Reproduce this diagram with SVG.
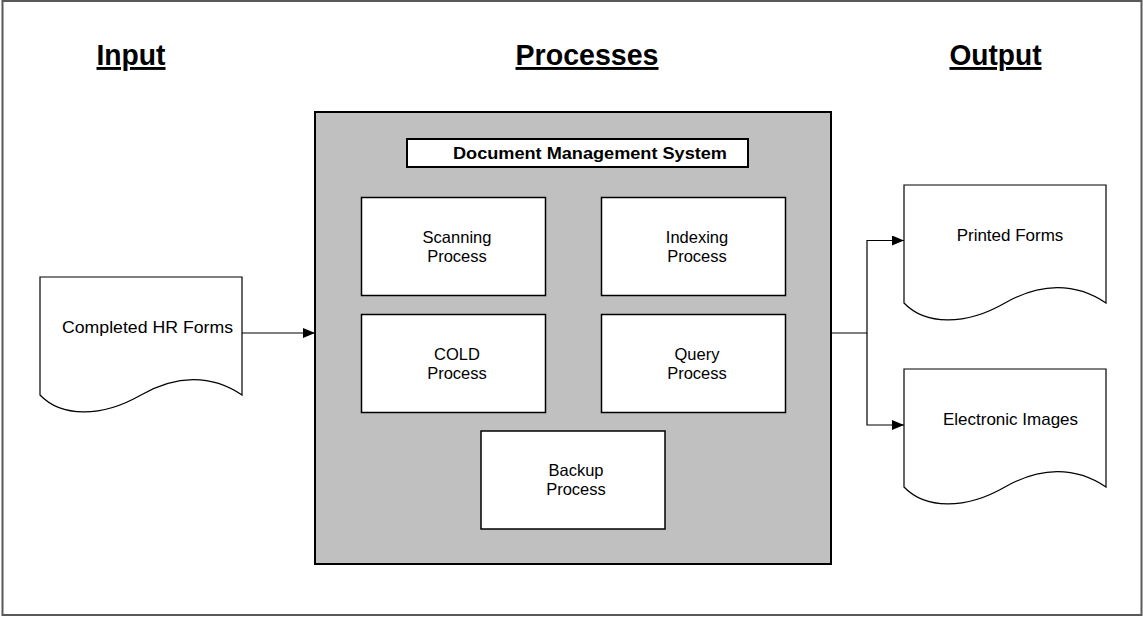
<svg xmlns="http://www.w3.org/2000/svg" width="1143" height="617" viewBox="0 0 1143 617">
  <style>
    .frame { fill: #ffffff; stroke: #595959; stroke-width: 2; }
    .heading { font-family: "Liberation Sans", Arial, sans-serif; font-size: 29px; font-weight: bold; fill: #000; text-anchor: middle; text-decoration: underline; }
    .label { font-family: "Liberation Sans", Arial, sans-serif; font-size: 17px; fill: #000; text-anchor: middle; }
    .inbox { font-family: "Liberation Sans", Arial, sans-serif; font-size: 16.5px; fill: #000; text-anchor: middle; }
    .title { font-family: "Liberation Sans", Arial, sans-serif; font-size: 16px; font-weight: bold; fill: #000; text-anchor: middle; }
    .system { fill: #c0c0c0; stroke: #000; stroke-width: 2; }
    .box { fill: #ffffff; stroke: #000; stroke-width: 1.5; }
    .titlebox { fill: #ffffff; stroke: #000; stroke-width: 2; }
    .doc { fill: #ffffff; stroke: #000; stroke-width: 1.2; }
    .wire { fill: none; stroke: #000; stroke-width: 1.2; }
  </style>
  <defs>
    <!-- document shape: flat top, wavy bottom; origin at top-left corner -->
    <path id="docShape" d="M0,0 H202 V118 C171,97 136,98 101,118 C61,141 21,140 0,118 Z"/>
    <marker id="arrow" viewBox="0 0 12 10" refX="12" refY="5" markerWidth="12" markerHeight="10" markerUnits="userSpaceOnUse" orient="auto">
      <path d="M0,0 L12,5 L0,10 Z" fill="#000"/>
    </marker>
  </defs>

  <!-- page frame -->
  <rect class="frame" x="2.5" y="1" width="1139" height="614"/>

  <!-- column headings -->
  <g id="headings">
    <text class="heading" x="131" y="65" textLength="69" lengthAdjust="spacingAndGlyphs">Input</text>
    <text class="heading" x="587" y="65" textLength="143" lengthAdjust="spacingAndGlyphs">Processes</text>
    <text class="heading" x="995.5" y="65" textLength="92" lengthAdjust="spacingAndGlyphs">Output</text>
  </g>

  <!-- input document -->
  <g id="completed-hr-forms">
    <use href="#docShape" class="doc" transform="translate(40,277)"/>
    <text class="label" x="147.5" y="333" textLength="171" lengthAdjust="spacingAndGlyphs">Completed HR Forms</text>
  </g>

  <!-- document management system container -->
  <g id="dms">
    <rect class="system" x="315" y="112" width="516" height="452"/>
    <rect class="titlebox" x="407" y="139" width="341" height="28"/>
    <text class="title" x="590" y="158.5" textLength="274" lengthAdjust="spacingAndGlyphs">Document Management System</text>
  </g>

  <g id="scanning">
    <rect class="box" x="361.5" y="197.5" width="184" height="98"/>
    <text class="inbox" x="457" y="242.5">Scanning</text>
    <text class="inbox" x="457" y="261.5">Process</text>
  </g>
  <g id="indexing">
    <rect class="box" x="601.5" y="197.5" width="184" height="98"/>
    <text class="inbox" x="697" y="242.5">Indexing</text>
    <text class="inbox" x="697" y="261.5">Process</text>
  </g>
  <g id="cold">
    <rect class="box" x="361.5" y="314.5" width="184" height="98"/>
    <text class="inbox" x="457" y="359.5">COLD</text>
    <text class="inbox" x="457" y="378.5">Process</text>
  </g>
  <g id="query">
    <rect class="box" x="601.5" y="314.5" width="184" height="98"/>
    <text class="inbox" x="697" y="359.5">Query</text>
    <text class="inbox" x="697" y="378.5">Process</text>
  </g>
  <g id="backup">
    <rect class="box" x="481" y="431" width="184" height="98"/>
    <text class="inbox" x="576" y="476">Backup</text>
    <text class="inbox" x="576" y="495">Process</text>
  </g>

  <!-- output documents -->
  <g id="printed-forms">
    <use href="#docShape" class="doc" transform="translate(904,185)"/>
    <text class="label" x="1010" y="241">Printed Forms</text>
  </g>
  <g id="electronic-images">
    <use href="#docShape" class="doc" transform="translate(904,369)"/>
    <text class="label" x="1010.5" y="425">Electronic Images</text>
  </g>

  <!-- connectors -->
  <g id="connectors">
    <path class="wire" d="M242,333 H315" marker-end="url(#arrow)"/>
    <path class="wire" d="M831,333 H867 V240.5 H904" marker-end="url(#arrow)"/>
    <path class="wire" d="M867,333 V425 H904" marker-end="url(#arrow)"/>
  </g>
</svg>
